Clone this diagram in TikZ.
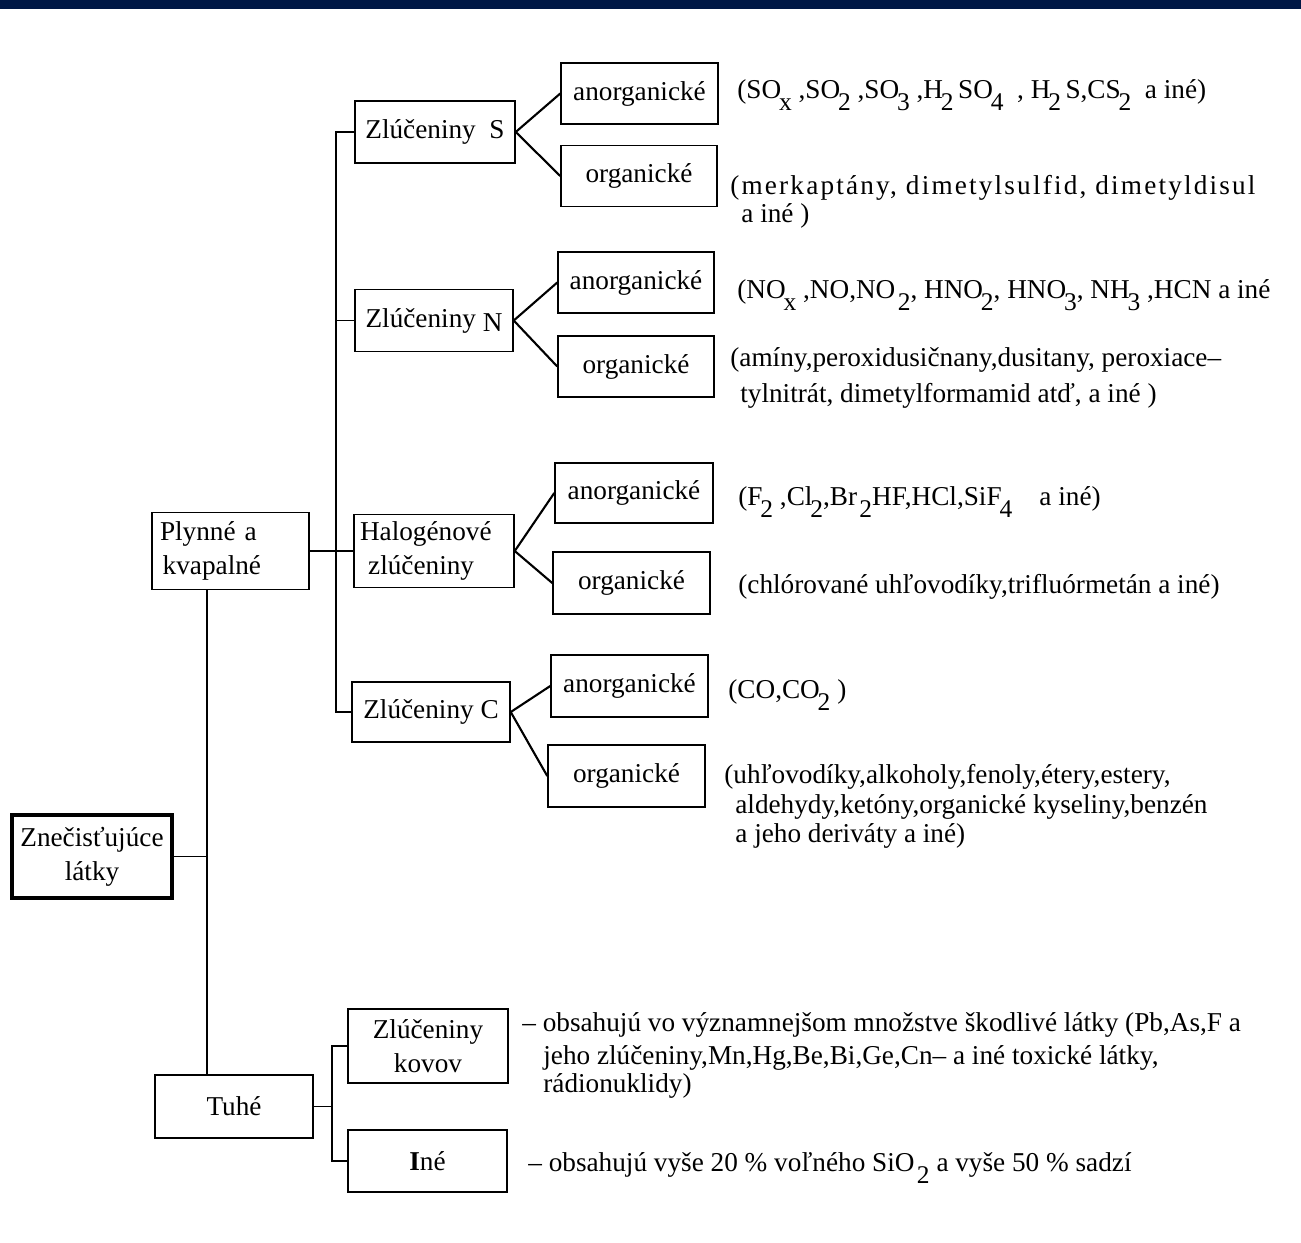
\documentclass[tikz,border=0pt]{standalone}
\usepackage{fontspec}
\setmainfont{Liberation Serif}
\definecolor{topbar}{HTML}{001845}
\newcommand\boxfont{\fontsize{15.5}{19.5}\selectfont}
\newcommand\chs[1]{\kern-0.08em\raisebox{-0.45em}{\fontsize{14.5}{14.5}\selectfont #1}}
\begin{document}
\begin{tikzpicture}[
  x=0.02cm, y=-0.02cm,
  every node/.style={font=\boxfont},
  sz/.style 2 args={minimum width=#1*0.02cm, minimum height=#2*0.02cm},
  box/.style={draw, line width=0.85pt, inner sep=0pt, align=center},
  rootbox/.style={box, line width=1.8pt},
  leftbox/.style={box, align=left, inner ysep=0pt},
  note/.style={anchor=base west, inner sep=0pt},
  branch/.style={line width=1.2pt},
  spine/.style={line width=0.7pt}
]
\useasboundingbox (0,0) rectangle (1301,1242);
\fill[topbar] (0,0) rectangle (1301,9);

\node[rootbox, sz={160}{83}] (root) at (92,856.5) {Znečisťujúce\\látky};
\node[leftbox, sz={157}{77}, text width=141*0.02cm, inner xsep=8*0.02cm] (gas) at (230.5,551) {Plynné a\\\hspace*{0.1em}kvapalné};
\node[box, sz={158}{63}] (tuhe) at (234,1106.5) {Tuhé};

\node[box, sz={160}{62}] (zS) at (435,132) {Zlúčeniny\ \ S};
\node[box, sz={158}{62}] (zN) at (434,320.5) {Zlúčeniny \raisebox{-0.15em}{N}};
\node[leftbox, sz={160}{73}, text width=148*0.02cm, inner xsep=6*0.02cm] (hal) at (434,551) {Halogénové\\\hspace*{0.3em}zlúčeniny};
\node[box, sz={158}{60}] (zC) at (431,712) {Zlúčeniny C};
\node[box, sz={160}{74}] (kov) at (428,1046) {Zlúčeniny\\kovov};
\node[box, sz={159}{62}] (ine) at (427.5,1161) {\textbf{I}né};

\node[box, sz={157}{61}] (aS) at (639.5,93.5) {anorganické};
\node[box, sz={156}{61}] (oS) at (639,176) {organické};
\node[box, sz={156}{61}] (aN) at (636,282.5) {anorganické};
\node[box, sz={156}{61}] (oN) at (636,366.5) {organické};
\node[box, sz={158}{60}] (aH) at (634,493) {anorganické};
\node[box, sz={157}{62}] (oH) at (631.5,583) {organické};
\node[box, sz={157}{62}] (aC) at (629.5,686) {anorganické};
\node[box, sz={157}{62}] (oC) at (626.5,776) {organické};

\node[note] (lS1) at (737,98) {(SO\chs{x} ,SO\chs{2} ,SO\chs{3} ,H\chs{2}\,SO\chs{4}\ \ , H\chs{2}\,S,CS\chs{2}\ \ a iné)};
\node[note] (lS2) at (730,194) {\addfontfeature{LetterSpace=8}(merkaptány, dimetylsulfid, dimetyldisul};
\node[note] (lS3) at (741,222) {a iné )};
\node[note] (lN1) at (737,298) {(NO\chs{x} ,NO,NO\,\chs{2}, HNO\chs{2}, HNO\chs{3}, NH\chs{3} ,HCN a iné};
\node[note] (lN2) at (730,366) {(amíny,peroxidusičnany,dusitany, peroxiace–};
\node[note] (lN3) at (740,402) {tylnitrát, dimetylformamid atď, a iné )};
\node[note] (lH1) at (738,505) {(F\chs{2} ,Cl\chs{2},Br\,\chs{2}HF,HCl,SiF\chs{4}\quad a iné)};
\node[note] (lH2) at (738,593) {(chlórované uhľovodíky,trifluórmetán a iné)};
\node[note] (lC1) at (728,698) {(CO,CO\chs{2} )};
\node[note] (lC2) at (724,783) {(uhľovodíky,alkoholy,fenoly,étery,estery,};
\node[note] (lC3) at (735,813) {aldehydy,ketóny,organické kyseliny,benzén};
\node[note] (lC4) at (735,842) {a jeho deriváty a iné)};
\node[note] (lK1) at (522,1031) {– obsahujú vo významnejšom množstve škodlivé látky (Pb,As,F a};
\node[note] (lK2) at (543,1064) {jeho zlúčeniny,Mn,Hg,Be,Bi,Ge,Cn– a iné toxické látky,};
\node[note] (lK3) at (543,1092) {rádionuklidy)};
\node[note] (lI1) at (528,1171) {– obsahujú vyše 20 \% voľného SiO\,\chs{2} a vyše 50 \% sadzí};

\coordinate (gasSpine) at (336,0);
\coordinate (rootSpine) at (207,0);
\coordinate (solidSpine) at (332,0);

\draw[spine] (zS.west) -- (zS.west -| gasSpine) -- (zC.west -| gasSpine) -- (zC.west);
\draw[spine] (zN.west) -- (zN.west -| gasSpine);
\draw[spine] (gas.east) -- (hal.west);
\draw[spine] (gas.south -| rootSpine) -- (tuhe.north -| rootSpine);
\draw[spine] (root.east) -- (root.east -| rootSpine);
\draw[spine] (kov.west) -- (kov.west -| solidSpine) -- (ine.west -| solidSpine) -- (ine.west);
\draw[spine] (tuhe.east) -- (tuhe.east -| solidSpine);

\draw[branch] (zS.east) -- (aS.west);
\draw[branch] (zS.east) -- (oS.west);
\draw[branch] (zN.east) -- (aN.west);
\draw[branch] (zN.east) -- (oN.west);
\draw[branch] (hal.east) -- (aH.west);
\draw[branch] (hal.east) -- (oH.west);
\draw[branch] (zC.east) -- (aC.west);
\draw[branch] (zC.east) -- (oC.west);
\end{tikzpicture}
\end{document}
